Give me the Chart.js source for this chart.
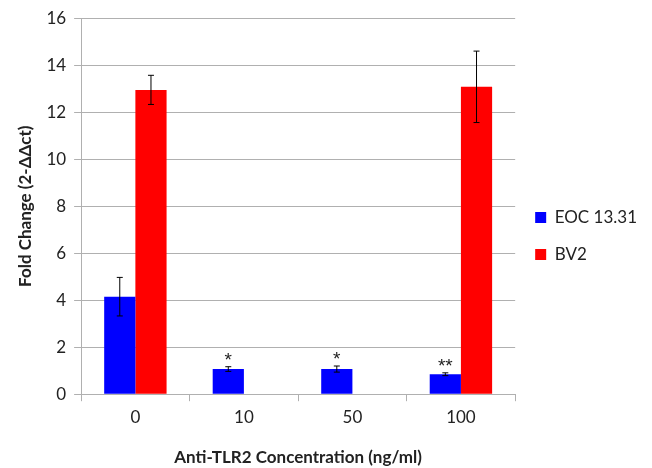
<!DOCTYPE html>
<html>
<head>
<meta charset="utf-8">
<script src="https://cdn.jsdelivr.net/npm/chart.js@4"></script>
<style>
  html, body { margin: 0; padding: 0; background: #fff; }
  #wrap { width: 652px; height: 468px; }
</style>
</head>
<body>
<div id="wrap"><canvas id="chart" width="652" height="468"></canvas></div>
<script>
// Chart values
const categories = ['0', '10', '50', '100'];
const eocValues = [4.15, 1.07, 1.07, 0.85];
const eocErrors = [0.82, 0.1, 0.13, 0.06];
const bv2Values = [12.95, 0, 0, 13.08];
const bv2Errors = [0.62, 0, 0, 1.52];
const eocMarks = ['', '*', '*', '**'];

// draws error bars and significance stars through the chart scales
const errorBarPlugin = {
  id: 'errorBars',
  afterDatasetsDraw(chart) {
    const ctx = chart.ctx;
    const yScale = chart.scales.y;
    chart.data.datasets.forEach((ds, di) => {
      const meta = chart.getDatasetMeta(di);
      meta.data.forEach((bar, i) => {
        const v = ds.data[i];
        const e = ds.errors[i];
        if (!e) return;
        const top = yScale.getPixelForValue(v + e);
        const bottom = yScale.getPixelForValue(v - e);
        ctx.save();
        ctx.strokeStyle = '#000';
        ctx.lineWidth = 1;
        ctx.beginPath();
        ctx.moveTo(bar.x, top);
        ctx.lineTo(bar.x, bottom);
        ctx.moveTo(bar.x - 3, top);
        ctx.lineTo(bar.x + 3, top);
        ctx.moveTo(bar.x - 3, bottom);
        ctx.lineTo(bar.x + 3, bottom);
        ctx.stroke();
        const mark = ds.marks ? ds.marks[i] : '';
        if (mark) {
          ctx.fillStyle = '#222';
          ctx.font = '19px "Liberation Sans"';
          ctx.textAlign = 'center';
          ctx.textBaseline = 'alphabetic';
          ctx.fillText(mark, bar.x, top - 1);
        }
        ctx.restore();
      });
    });
  }
};

new Chart(document.getElementById('chart'), {
  type: 'bar',
  data: {
    labels: categories,
    datasets: [
      {
        label: 'EOC 13.31',
        data: eocValues,
        errors: eocErrors,
        marks: eocMarks,
        backgroundColor: '#0000ff',
        categoryPercentage: 0.575,
        barPercentage: 1
      },
      {
        label: 'BV2',
        data: bv2Values,
        errors: bv2Errors,
        backgroundColor: '#ff0000',
        categoryPercentage: 0.575,
        barPercentage: 1
      }
    ]
  },
  options: {
    responsive: false,
    animation: false,
    layout: { padding: { top: 4, right: 5, left: 11, bottom: 0 } },
    plugins: {
      tooltip: { enabled: false },
      legend: {
        position: 'right',
        labels: {
          boxWidth: 11,
          boxHeight: 11,
          padding: 20,
          color: '#222',
          font: { family: 'Lato', size: 17 }
        }
      }
    },
    scales: {
      x: {
        grid: {
          drawOnChartArea: false,
          drawTicks: true,
          tickLength: 7,
          color: '#b0b0b0'
        },
        border: { color: '#b0b0b0' },
        ticks: { color: '#222', font: { family: 'Lato', size: 17 }, padding: 6 },
        title: {
          display: true,
          text: 'Anti-TLR2 Concentration (ng/ml)',
          color: '#222',
          font: { family: 'Lato', size: 17, weight: 'bold' },
          padding: { top: 14, bottom: 0 }
        }
      },
      y: {
        min: 0,
        max: 16,
        ticks: { stepSize: 2, color: '#222', font: { family: 'Lato', size: 17 }, padding: 8 },
        grid: { color: '#b0b0b0', tickLength: 7 },
        border: { color: '#b0b0b0' },
        title: {
          display: true,
          text: 'Fold Change (2-ΔΔct)',
          color: '#222',
          font: { family: 'Lato', size: 17, weight: 'bold' },
          padding: { top: 4, bottom: 3 }
        }
      }
    }
  },
  plugins: [errorBarPlugin]
});
</script>
</body>
</html>
